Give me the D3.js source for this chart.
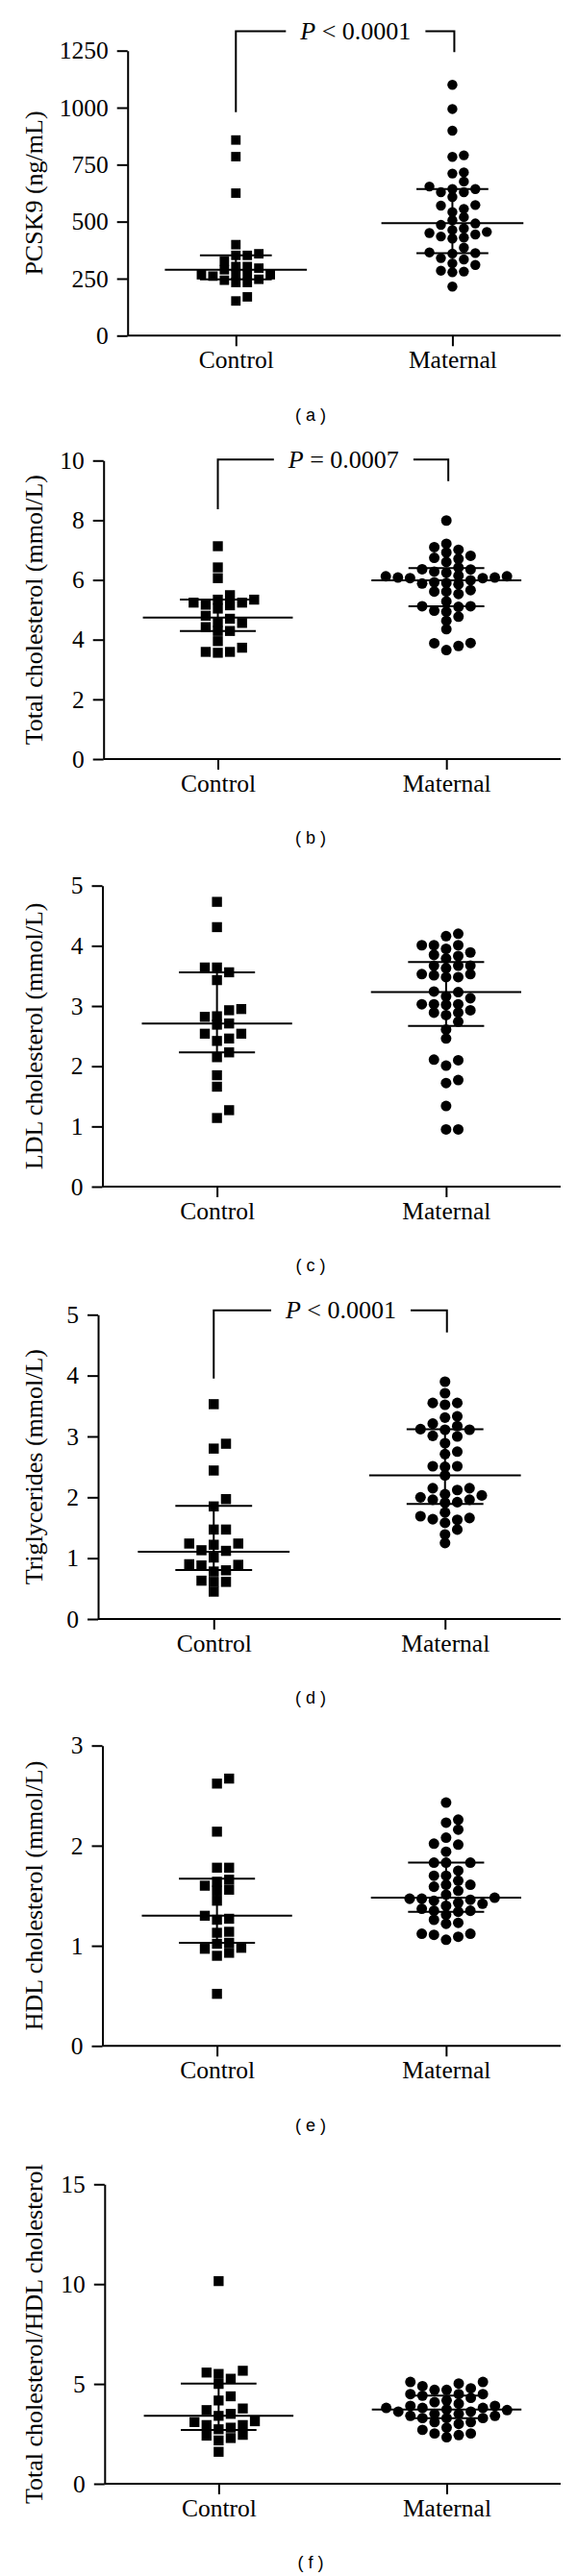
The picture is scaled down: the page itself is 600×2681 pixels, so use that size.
<!DOCTYPE html>
<html><head><meta charset="utf-8">
<script src="https://cdn.jsdelivr.net/npm/d3@7"></script>
<style>body{margin:0;background:#fff} svg{display:block}</style>
</head><body>
<svg id="chart" width="600" height="2681"></svg>
<script>
const categories = ["Control", "Maternal"];

// (a) PCSK9 (ng/mL)
const pcsk9Control = [858, 785, 625, 399, 359, 352, 352, 327, 303, 303, 296, 289, 267, 267, 267, 267, 261, 247, 243, 233, 233, 170, 152];
const pcsk9Maternal = [1100, 994, 899, 791, 784, 716, 711, 676, 654, 643, 643, 629, 629, 608, 573, 570, 556, 542, 520, 506, 492, 486, 470, 463, 455, 450, 444, 435, 430, 426, 386, 365, 362, 360, 340, 334, 317, 310, 285, 281, 278, 215];
const pcsk9Median = [289, 493];
const pcsk9Q1 = [247, 362];
const pcsk9Q3 = [352, 643];
const pcsk9Ticks = [0, 250, 500, 750, 1000, 1250];

// (b) Total cholesterol (mmol/L)
const tcControl = [7.13, 6.42, 6.06, 5.49, 5.34, 5.34, 5.24, 5.24, 5.17, 5.15, 5.04, 4.80, 4.70, 4.59, 4.56, 4.42, 4.29, 4.29, 3.95, 3.73, 3.59, 3.59, 3.56];
const tcMaternal = [7.99, 7.21, 7.10, 7.01, 6.92, 6.81, 6.74, 6.71, 6.60, 6.42, 6.36, 6.35, 6.28, 6.24, 6.14, 6.12, 6.12, 6.08, 6.08, 6.06, 6.06, 5.99, 5.92, 5.90, 5.88, 5.85, 5.66, 5.61, 5.61, 5.53, 5.28, 5.12, 5.12, 5.10, 4.97, 4.94, 4.77, 4.63, 4.35, 3.89, 3.88, 3.79, 3.65];
const tcMedian = [4.74, 5.99];
const tcQ1 = [4.29, 5.12];
const tcQ3 = [5.34, 6.40];
const tcTicks = [0, 2, 4, 6, 8, 10];

// (c) LDL cholesterol (mmol/L)
const ldlControl = [4.73, 4.31, 3.64, 3.64, 3.56, 3.43, 2.95, 2.93, 2.83, 2.82, 2.71, 2.69, 2.54, 2.54, 2.46, 2.42, 2.23, 2.15, 1.85, 1.66, 1.27, 1.14];
const ldlMaternal = [4.20, 4.16, 4.01, 4.01, 4.01, 3.95, 3.89, 3.85, 3.83, 3.79, 3.67, 3.67, 3.67, 3.63, 3.53, 3.53, 3.51, 3.48, 3.48, 3.24, 3.23, 3.16, 3.13, 3.03, 3.03, 3.03, 3.02, 2.93, 2.89, 2.89, 2.85, 2.74, 2.61, 2.46, 2.11, 2.10, 2.01, 1.77, 1.72, 1.34, 0.95, 0.95];
const ldlMedian = [2.71, 3.23];
const ldlQ1 = [2.23, 2.67];
const ldlQ3 = [3.56, 3.73];
const ldlTicks = [0, 1, 2, 3, 4, 5];

// (d) Triglycerides (mmol/L)
const tgControl = [3.53, 2.88, 2.80, 2.44, 1.97, 1.85, 1.47, 1.47, 1.24, 1.24, 1.22, 1.13, 1.12, 1.01, 0.90, 0.89, 0.88, 0.80, 0.78, 0.63, 0.61, 0.61, 0.45];
const tgMaternal = [3.90, 3.71, 3.55, 3.55, 3.52, 3.33, 3.31, 3.21, 3.17, 3.12, 3.11, 3.11, 3.01, 3.00, 2.89, 2.75, 2.71, 2.51, 2.51, 2.50, 2.36, 2.15, 2.15, 2.12, 2.05, 2.03, 2.00, 1.96, 1.96, 1.92, 1.91, 1.75, 1.69, 1.66, 1.64, 1.63, 1.58, 1.47, 1.39, 1.25];
const tgMedian = [1.105, 2.36];
const tgQ1 = [0.805, 1.89];
const tgQ3 = [1.86, 3.12];
const tgTicks = [0, 1, 2, 3, 4, 5];

// (e) HDL cholesterol (mmol/L)
const hdlControl = [2.67, 2.62, 2.14, 1.78, 1.78, 1.66, 1.64, 1.60, 1.56, 1.55, 1.45, 1.30, 1.27, 1.26, 1.14, 1.13, 1.03, 1.02, 0.98, 0.97, 0.93, 0.90, 0.52];
const hdlMaternal = [2.43, 2.26, 2.23, 2.16, 2.08, 2.02, 2.01, 1.94, 1.83, 1.83, 1.83, 1.75, 1.70, 1.70, 1.65, 1.61, 1.61, 1.59, 1.55, 1.51, 1.48, 1.47, 1.47, 1.46, 1.45, 1.43, 1.42, 1.40, 1.37, 1.35, 1.35, 1.34, 1.31, 1.26, 1.23, 1.22, 1.12, 1.12, 1.11, 1.09, 1.06];
const hdlMedian = [1.30, 1.48];
const hdlQ1 = [1.03, 1.34];
const hdlQ3 = [1.67, 1.83];
const hdlTicks = [0, 1, 2, 3];

// (f) Total cholesterol / HDL cholesterol
const ratioControl = [10.15, 5.66, 5.57, 5.50, 5.26, 5.00, 4.38, 4.17, 3.77, 3.69, 3.50, 3.40, 3.13, 3.09, 2.94, 2.94, 2.81, 2.73, 2.45, 2.41, 2.29, 2.17, 1.60];
const ratioMaternal = [5.10, 5.10, 5.02, 4.89, 4.78, 4.70, 4.70, 4.49, 4.49, 4.49, 4.41, 4.30, 4.17, 4.09, 4.01, 3.90, 3.90, 3.80, 3.80, 3.80, 3.72, 3.69, 3.61, 3.61, 3.50, 3.50, 3.40, 3.40, 3.29, 3.29, 3.29, 3.09, 3.09, 3.00, 2.81, 2.70, 2.52, 2.52, 2.44, 2.33];
const ratioMedian = [3.40, 3.72];
const ratioQ1 = [2.70, 3.29];
const ratioQ3 = [5.02, 4.41];
const ratioTicks = [0, 5, 10, 15];

// p-value annotations
const pLabels = { a: "< 0.0001", b: "= 0.0007", d: "< 0.0001" };

// ---- layout (not data) ----
const panels = [
  {id: "a", label: "PCSK9 (ng/mL)", groups: [pcsk9Control, pcsk9Maternal], med: pcsk9Median, q1: pcsk9Q1, q3: pcsk9Q3, ticks: pcsk9Ticks,
   x0: 132.7, top: 52.7, bottom: 349.3, bracket: {top: 1335, lb: 980, rb: 1243}},
  {id: "b", label: "Total cholesterol (mmol/L)", groups: [tcControl, tcMaternal], med: tcMedian, q1: tcQ1, q3: tcQ3, ticks: tcTicks,
   x0: 107.7, top: 479.3, bottom: 790, bracket: {top: 10.03, lb: 8.37, rb: 9.31}},
  {id: "c", label: "LDL cholesterol (mmol/L)", groups: [ldlControl, ldlMaternal], med: ldlMedian, q1: ldlQ1, q3: ldlQ3, ticks: ldlTicks,
   x0: 106.5, top: 921.7, bottom: 1235},
  {id: "d", label: "Triglycerides (mmol/L)", groups: [tgControl, tgMaternal], med: tgMedian, q1: tgQ1, q3: tgQ3, ticks: tgTicks,
   x0: 102, top: 1368.3, bottom: 1685, bracket: {top: 5.07, lb: 3.95, rb: 4.71}},
  {id: "e", label: "HDL cholesterol (mmol/L)", groups: [hdlControl, hdlMaternal], med: hdlMedian, q1: hdlQ1, q3: hdlQ3, ticks: hdlTicks,
   x0: 106.5, top: 1816.7, bottom: 2129.3},
  {id: "f", label: "Total cholesterol/HDL cholesterol", groups: [ratioControl, ratioMaternal], med: ratioMedian, q1: ratioQ1, q3: ratioQ3, ticks: ratioTicks,
   x0: 108.8, top: 2273.3, bottom: 2585}
];

const RIGHT = 583;
const SERIF = "'Liberation Serif', 'Times New Roman', serif";
const SANS = "'Liberation Sans', Arial, sans-serif";
const svg = d3.select("#chart");

function swarm(values, cx, y, slot, minDy) {
  const sorted = values.slice().sort((a, b) => a - b);
  const placed = [];
  return sorted.map(v => {
    const py = y(v);
    let k = 0;
    for (let n = 0; n < 100; n++) {
      const cand = n === 0 ? 0 : (n % 2 ? (n + 1) / 2 : -n / 2);
      if (!placed.some(p => p.k === cand && Math.abs(p.py - py) < minDy)) { k = cand; break; }
    }
    placed.push({k, py});
    return {v, px: cx + k * slot, py};
  });
}

panels.forEach(p => {
  const g = svg.append("g");
  const x = d3.scalePoint().domain(categories).range([p.x0, RIGHT]).padding(0.5);
  const y = d3.scaleLinear().domain([0, d3.max(p.ticks)]).range([p.bottom, p.top]);
  const W = RIGHT - p.x0;
  const sym = 0.0218 * W, slot = 0.0265 * W;
  const medHalf = 0.164 * W, iqrHalf = 0.083 * W;

  // axes
  const yAxis = g.append("g").attr("transform", `translate(${p.x0},0)`)
    .call(d3.axisLeft(y).tickValues(p.ticks).tickFormat(d3.format("d")).tickSize(11).tickSizeOuter(0).tickPadding(9));
  const xAxis = g.append("g").attr("transform", `translate(0,${p.bottom})`)
    .call(d3.axisBottom(x).tickSize(11).tickSizeOuter(0).tickPadding(5));
  [yAxis, xAxis].forEach(a => {
    a.selectAll("path, line").attr("stroke", "#000").attr("stroke-width", 2);
    a.selectAll("text").attr("fill", "#000").style("font-family", SERIF).style("font-size", "25.5px");
  });
  xAxis.select(".domain").attr("d", `M${p.x0},0H${RIGHT}`);

  // y label
  g.append("text")
    .attr("transform", `translate(35,${(p.top + p.bottom) / 2}) rotate(-90)`)
    .attr("text-anchor", "middle").attr("dy", "0.35em")
    .style("font-family", SERIF).style("font-size", "26px")
    .text(p.label);

  // median + IQR
  categories.forEach((c, i) => {
    const cx = x(c);
    g.append("line").attr("x1", cx).attr("x2", cx).attr("y1", y(p.q1[i])).attr("y2", y(p.q3[i]))
      .attr("stroke", "#000").attr("stroke-width", 2);
    [[p.q1[i], iqrHalf], [p.q3[i], iqrHalf], [p.med[i], medHalf]].forEach(([v, h]) => {
      g.append("line").attr("x1", cx - h).attr("x2", cx + h).attr("y1", y(v)).attr("y2", y(v))
        .attr("stroke", "#000").attr("stroke-width", 2);
    });
  });

  // points
  const ctrl = swarm(p.groups[0], x(categories[0]), y, slot, sym * 0.82);
  g.selectAll("rect.pt").data(ctrl).join("rect").attr("class", "pt")
    .attr("x", d => d.px - sym / 2).attr("y", d => d.py - sym / 2)
    .attr("width", sym).attr("height", sym).attr("fill", "#000");
  const mat = swarm(p.groups[1], x(categories[1]), y, slot, sym * 0.82);
  g.selectAll("circle.pt").data(mat).join("circle").attr("class", "pt")
    .attr("cx", d => d.px).attr("cy", d => d.py).attr("r", sym * 0.53).attr("fill", "#000");

  // p-value bracket
  if (p.bracket) {
    const b = p.bracket;
    const xl = x(categories[0]), xr = x(categories[1]) + 2;
    const yt = y(b.top);
    const t = g.append("text").attr("y", yt + 8.5)
      .style("font-family", SERIF).style("font-size", "26px").attr("text-anchor", "middle");
    t.append("tspan").style("font-style", "italic").text("P");
    t.append("tspan").text(" " + pLabels[p.id]);
    const tc = (xl + xr) / 2 + 11;
    t.attr("x", tc);
    const tw = t.node().getComputedTextLength();
    const gap = 15;
    g.append("path")
      .attr("d", `M${xl},${y(b.lb)}V${yt}H${tc - tw / 2 - gap}M${tc + tw / 2 + gap},${yt}H${xr}V${y(b.rb)}`)
      .attr("fill", "none").attr("stroke", "#000").attr("stroke-width", 2);
  }

  // caption
  g.append("text").attr("x", 323).attr("y", p.bottom + 82).attr("dy", "0.35em")
    .attr("text-anchor", "middle").style("font-family", SANS).style("font-size", "18px")
    .text(`( ${p.id} )`);
});
</script>
</body></html>
